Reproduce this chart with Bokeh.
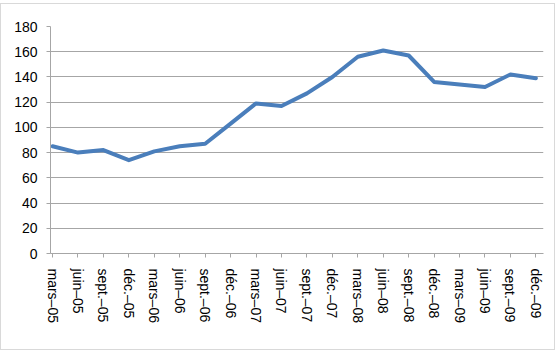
import math
from bokeh.plotting import figure
from bokeh.models import FixedTicker, Range1d
from bokeh.embed import file_html
from bokeh.resources import INLINE

categories = ["mars-05", "juin-05", "sept.-05", "déc.-05",
              "mars-06", "juin-06", "sept.-06", "déc.-06",
              "mars-07", "juin-07", "sept.-07", "déc.-07",
              "mars-08", "juin-08", "sept.-08", "déc.-08",
              "mars-09", "juin-09", "sept.-09", "déc.-09"]
values = [85, 80, 82, 74, 81, 85, 87, 103, 119, 117, 127, 140,
          156, 161, 157, 136, 134, 132, 142, 139]
y_ticks = [0, 20, 40, 60, 80, 100, 120, 140, 160, 180]

xs = list(range(len(categories)))

p = figure(width=555, height=347, output_backend="svg", toolbar_location=None,
           x_range=Range1d(-0.08, len(categories) - 1 + 0.3),
           y_range=Range1d(0, 180),
           min_border_left=49, min_border_right=13, min_border_top=22, min_border_bottom=98)
p.styles = {"border": "1px solid #d9d9d9", "margin-top": "3px"}
p.outline_line_color = None
p.background_fill_color = "white"
p.border_fill_color = "white"

p.line(xs, values, line_color="#4a7ebb", line_width=4, line_join="round", line_cap="round")

grey = "#a6a6a6"
p.xgrid.grid_line_color = None
p.ygrid.grid_line_color = grey
p.ygrid.grid_line_width = 1

p.yaxis.ticker = FixedTicker(ticks=y_ticks)
p.yaxis.minor_tick_line_color = None
p.yaxis.axis_line_color = grey
p.yaxis.major_tick_line_color = grey
p.yaxis.major_tick_out = 4
p.yaxis.major_tick_in = 0
p.yaxis.major_label_standoff = 9
p.yaxis.major_label_text_font = "Liberation Sans Narrow, Liberation Sans"
p.yaxis.major_label_text_font_size = "14px"
p.yaxis.major_label_text_color = "black"

p.xaxis.ticker = FixedTicker(ticks=xs)
p.xaxis.major_label_overrides = {i: c.replace("-", "–") for i, c in enumerate(categories)}
p.xaxis.minor_tick_line_color = None
p.xaxis.axis_line_color = grey
p.xaxis.major_tick_line_color = grey
p.xaxis.major_tick_out = 4
p.xaxis.major_tick_in = 0
p.xaxis.major_label_orientation = -math.pi / 2
p.xaxis.major_label_standoff = 11
p.xaxis.major_label_text_font = "Liberation Sans"
p.xaxis.major_label_text_font_size = "14px"
p.xaxis.major_label_text_color = "black"

open("out.html", "w").write(file_html(p, INLINE))
